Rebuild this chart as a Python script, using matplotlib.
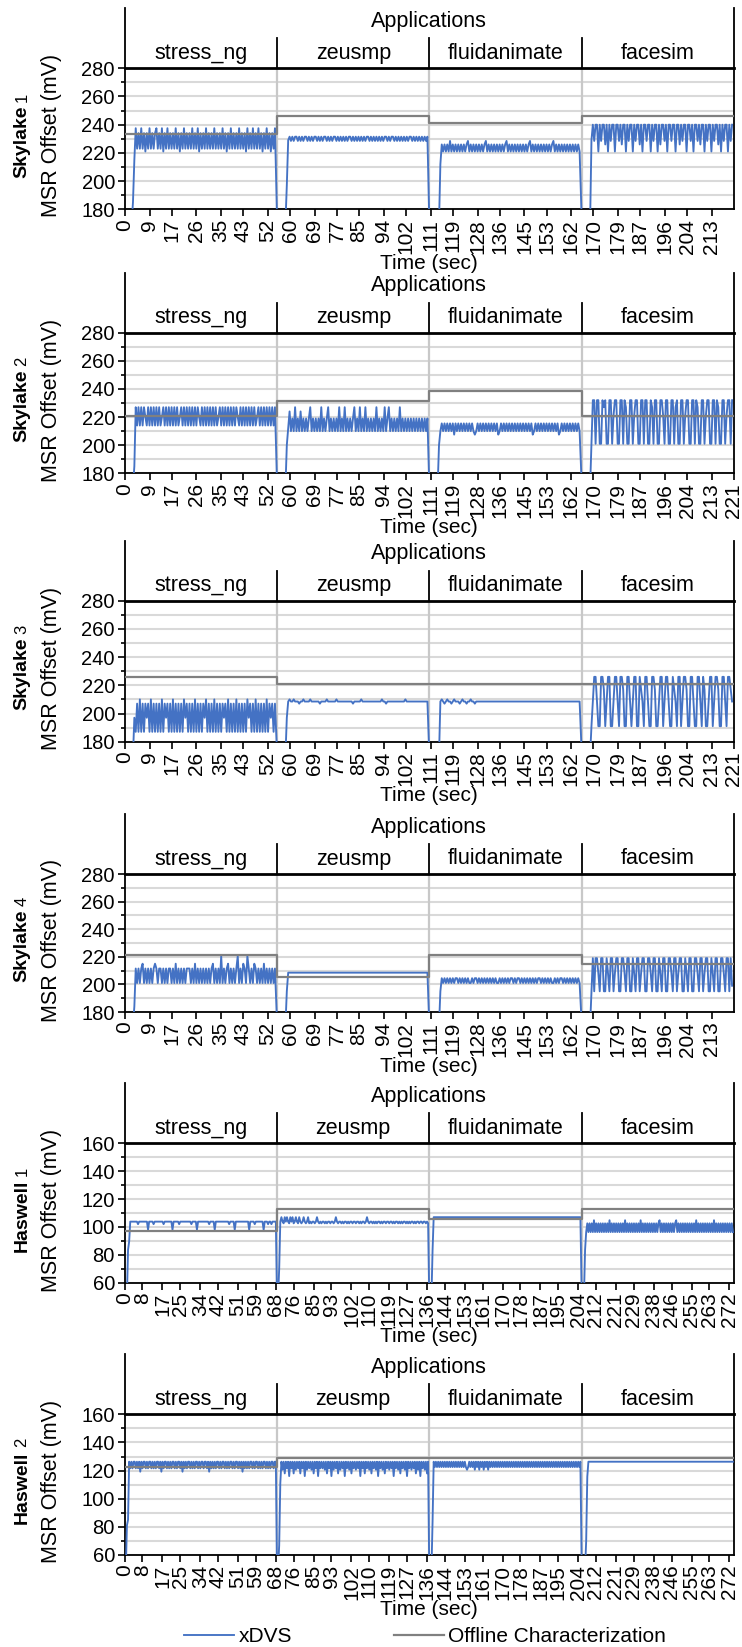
import numpy as np
import matplotlib
matplotlib.use("Agg")
import matplotlib.pyplot as plt
from matplotlib.lines import Line2D

plt.rcParams['font.family'] = ['Liberation Sans', 'DejaVu Sans']

# ------------------------------------------------------------------ data
APPS = ["stress_ng", "zeusmp", "fluidanimate", "facesim"]
SAMPLE_DT = 0.5   # seconds between xDVS samples

SKY_TICKS_A = [0, 9, 17, 26, 35, 43, 52, 60, 69, 77, 85, 94, 102, 111, 119,
               128, 136, 145, 153, 162, 170, 179, 187, 196, 204, 213]
SKY_TICKS_B = [0, 9, 17, 26, 35, 43, 52, 60, 69, 77, 85, 94, 102, 111, 119,
               128, 136, 145, 153, 162, 170, 179, 187, 196, 204, 213, 221]
HAS_TICKS = [0, 8, 17, 25, 34, 42, 51, 59, 68, 76, 85, 93, 102, 110, 119, 127,
             136, 144, 153, 161, 170, 178, 187, 195, 204, 212, 221, 229, 238,
             246, 255, 263, 272]

SKY_BOUNDS = [0, 55.3, 110.5, 165.8, 221.0]     # app boundaries (sec)
HAS_BOUNDS = [0, 68.5, 137.0, 205.6, 274.1]

# ---- Skylake 1
sk1_offline = [233.5, 246.0, 241.0, 246.0]
sk1_codes = {'_': 170, 'a': 185, 'r': 197, 's': 215, 'p': 212, 'g': 229,
             'L': 221, 'l': 223, 'x': 226, 'm': 228.5, 'M': 231.5,
             'h': 234, 'H': 237.5, 'T': 240}
sk1_xdvs = [
    "______asHl hlHlhLhlHl hlhHlhlHLh lHlhlhlHlh LhlHlhlhlH lhlHLhlhlH "
    "lhlhlHlhlh lHlhLhlHlh lhlHlhlhLH lhlHlhlHlh LhlHlhLhlH",
    "_______rgM mMmMMmMmMm MMmMmMmMMm MmMmMMmMmM mMMmMmMmMm MmMMmMmMmM "
    "mMmMmMMmMm MmMmMmMmMM mMmMMmMmMm MmMmMmMMmM mMmMmMmMmM",
    "________px LxLxLmLxLx LxLxLxLxmL xLxLxLxLxL xmLxLxLxLx LxLxLxmLxL "
    "xLxLxLxLxL xLxmLxLxLx LxLxLxLxLx mLxLxLxLxL xLxLxLxLxL",
    "_______gTm TTLTmTTxTL TmTTLTTmTx TTLTmTTLTm TTxTLTTmTT LTmTTLTxTT "
    "mTLTTmTTLT TxTmTTLTTm TLTTmTxTTL TmTTLTmTTx TLTmTTLTmT",
]

# ---- Skylake 2
sk2_offline = [221.0, 231.6, 238.7, 221.0]
sk2_codes = {'_': 170, 'a': 185, 'b': 200, 'i': 212, 'd': 207.5,
             'p': 214, 'P': 227, 'u': 220, 'j': 210, 'k': 219, 'K': 224,
             'm': 215.5, 'W': 232, 'w': 201, 'v': 227, 'z': 221}
sk2_xdvs = [
    "_______aPp PpPpPupPpP pPpPpPpuPp PpPpPpPpPp uPpPpPpPpP pPpPupPpPp "
    "PpPpPpPpuP pPpPpPpPpP pPupPpPpPp PpPpPpuPpP pPpPpPpPpP",
    "_______biK jkjPjkjKjk jkjkPjkjkj kjPjkjkPjk jkjkjPjkjP jkjkjkPjkj "
    "PjkjPjkjkj kjPjkjkjPj kPjkjkjkjP jkjkjkjkjk jkjkjkjkjk",
    "_______bjm jmjmjmjmdm jmjmjmjmjm jmjdjmjmjm jmjmjmjmjm djmjmjmjmj "
    "mjmjmjmjmj mjmjmdjmjm jmjmjmjmjm jmjmdjmjmj mjmjmjmjmj",
    "_______bWW wWWwwWvWww WWwzWWwwWW wWvwwWWwzW WwwWWwWWww WvwWWwwWWz "
    "wWWwwWWwvW wwWWwzWWww WWwWvwwWWw zWWwwWWwWv wwWWwzWWwW",
]

# ---- Skylake 3
sk3_offline = [226.1, 220.7, 220.7, 220.7]
sk3_codes = {'_': 170, 'a': 197, 'L': 187, 'M': 197, 'H': 207, 'T': 210,
             'z': 208.5, 'y': 207, 'E': 226, 'K': 191, 'J': 217}
sk3_xdvs = [
    "_______aLH LTLHLHMHLT LHLHLHLTLH MHLHLTLHLH LHLTMHLHLH LTLHLHLHMT "
    "LHLHLTLHLH LHMHLTLHLH LTLHLHLHLT MHLHLTLHLH LHLTLHMHLH",
    "_______azT zzTzzzyzzT zzzzTzzzzz zyzzzzTzzz zzzTzzzzzz zzzzzyzzzz "
    "zTzzzzzzzz zzzzzzTzzy zzzzzzzzzz zzzTzzzzzz zzzzzzzzzz",
    "________zT zyzTzzyzTz zzyzTzzyzz Tzzyzzzzzz zzzzzzzzzz zzzzzzzzzz "
    "zzzzzzzzzz zzzzzzzzzz zzzzzzzzzz zzzzzzzzzz zzzzzzzzzz",
    "_______KzE EzKKEEJKzE EKKzEEzKEE JKKEEzKzEE KKEJzKEEzK KEEJKKzEEK "
    "zEEzKKEJzK EEKzEEJKKE EzKKEEzKEJ KKzEEKzEEJ KKEEzKEEJz",
]

# ---- Skylake 4
sk4_offline = [221.3, 205.6, 221.3, 214.5]
sk4_codes = {'_': 170, 'a': 184, 'b': 195, 'B': 201, 'T': 211.5, 'S': 215,
             'X': 220.5, 'F': 208.5, 'g': 201, 'h': 204.5, 'U': 219,
             'V': 208, 'W': 195, 'Y': 199}
sk4_xdvs = [
    "_______aTB TBTSBTBTBT BTSTBTTBTB TBTTBTBSBT BTBTBTTTBT BSBTBTBTBT "
    "BTBTSBTBTB XBTBTSBTBT BTXBTBSTBX TBTBSTBTBT BSBTBTBTBT",
    "_______bFF FFFFFFFFFF FFFFFFFFFF FFFFFFFFFF FFFFFFFFFF FFFFFFFFFF "
    "FFFFFFFFFF FFFFFFFFFF FFFFFFFFFF FFFFFFFFFF FFFFFFFFFF",
    "________bh ghghghghgh hghghghghg ghghhghghg hghghghghg ghghghghgh "
    "hghghhghgh ghghghghgh hghghghghg ghghghhghg hghghghghg",
    "_______bUW UUVWUUWWUV WUUWVUUWWU UVWUUWWUVW UUWVUUWWUU VWUUWWUVWU "
    "UWWUUVWUUW VUUWWUVWUU WWUUVWUUWV UUWWUVWUUW WUUVWUUWUY",
]

# ---- Haswell 1
hw1_offline = [97.1, 112.7, 105.5, 112.7]
hw1_codes = {'_': 50, 'a': 70, 'b': 83.5, 'c': 89.5, 'H': 103.8, 'd': 102,
             'D': 98, 'S': 107, 'F': 107, 'P': 104.8, 'Q': 96.3, 'e': 102.6}
hw1_xdvs = [
    "___bcHHHHH HHdHHHHHHH HDHHHHdHHH HHHHHdHHHH HHHDHHHHHd HHHHHHHHHH "
    "dHHHHDHHHH HHHHHHdHHH HDHHHHHHHH HHHHdHHHHD HHHHHHHHHH HHDHHHHdHH "
    "HHHHHDHHHd HHdHHHH",
    "__aHSHeSHS HeSHSeHSHe SHeHSHeHSe HeHHeHSHeH eHHeHeHHeH HeHSHeHHeH "
    "eHHeHeHHeH HeHHeHeHHe HSHeHHeHeH eHHeHeHHeH HeHHeHeHHe HeHeHHeHeH "
    "eHHeHeHHeH HeHHeHe",
    "___bFFFFFF FFFFFFFFFF FFFFFFFFFF FFFFFFFFFF FFFFFFFFFF FFFFFFFFFF "
    "FFFFFFFFFF FFFFFFFFFF FFFFFFFFFF FFFFFFFFFF FFFFFFFFFF FFFFFFFFFF "
    "FFFFFFFFFF FFFFFFF",
    "___bQeQeQe QPQeQeQeQe QeQeQPQeQe QeQeQeQeQP QeQeQeQeQe QeQPQeQeQe "
    "QeQeQeQeQe PQeQeQeQeQ eQeQePQeQe QeQeQeQeQe QeQPQeQeQe QeQeQeQeQP "
    "QeQeQeQeQe QeQeQeQ",
]

# ---- Haswell 2
hw2_offline = [122.3, 128.7, 128.7, 128.7]
hw2_codes = {'_': 50, 'a': 81, 'b': 85, 'c': 67, 'e': 111, 'g': 84, 'h': 70,
             'i': 115.6, 'T': 126.3, 'u': 121.6, 'v': 119.2, 'w': 118,
             'x': 116.1, 'y': 120.6, 'z': 122.5}
hw2_xdvs = [
    "__abTuTuTT uTuTvTuTTu TuTTuTuTuT TuTvTuTTuT uTuTTuTuTT uTvTuTuTTu "
    "TuTuTTuTuT TuTTuTvTuT uTuTTuTuTT uTuTuTTuTu TTuTuTvTuT uTuTTuTuTT "
    "uTuTuTTuTu TuTTuTT",
    "__ceTyTwTu TxTuTwTyTu TwTuTxTyTu TyTwTuTxTu TuTyTwTuTx TyTuTwTyTu "
    "TxTuTyTwTu TyTuTxTuTw TuTyTwTuTy TxTuTyTwTu TyTuTxTuTy TwTuTyTxTu "
    "TyTuTwTyTx TuTyTwT",
    "___gTzTzTz TzTzTzTzTz TzTzTzTzTz TzTzyzTzTz TyTzTyTzTy TzTyTzTzTz "
    "TzTzTzTzTz TzTzTzTzTz TzTzTzTzTz TzTzTzTzTz TzTzTzTzTz TzTzTzTzTz "
    "TzTzTzTzTz TzTzTzT",
    "____hiTTTT TTTTTTTTTT TTTTTTTTTT TTTTTTTTTT TTTTTTTTTT TTTTTTTTTT "
    "TTTTTTTTTT TTTTTTTTTT TTTTTTTTTT TTTTTTTTTT TTTTTTTTTT TTTTTTTTTT "
    "TTTTTTTTTT TTTTTTT",
]

PANELS = [
    ("Skylake", "1", (180, 280), SKY_BOUNDS, SKY_TICKS_A, sk1_offline, sk1_codes, sk1_xdvs),
    ("Skylake", "2", (180, 280), SKY_BOUNDS, SKY_TICKS_B, sk2_offline, sk2_codes, sk2_xdvs),
    ("Skylake", "3", (180, 280), SKY_BOUNDS, SKY_TICKS_B, sk3_offline, sk3_codes, sk3_xdvs),
    ("Skylake", "4", (180, 280), SKY_BOUNDS, SKY_TICKS_A, sk4_offline, sk4_codes, sk4_xdvs),
    ("Haswell", "1", (60, 160), HAS_BOUNDS, HAS_TICKS, hw1_offline, hw1_codes, hw1_xdvs),
    ("Haswell", "2", (60, 160), HAS_BOUNDS, HAS_TICKS, hw2_offline, hw2_codes, hw2_xdvs),
]

# ------------------------------------------------------------------ style/layout
W, H, DPI = 742, 1647, 100
BLUE = "#4472C4"
GRAY = "#808080"
GRID = "#D9D9D9"
SEP = "#C8C8C8"
AX_LEFT, AX_RIGHT = 124.7, 734.0
PANEL_PX = [(68.3, 209.3), (332.7, 473.3), (600.7, 741.7),
            (874.0, 1012.0), (1143.3, 1282.7), (1414.3, 1555.0)]
HEADER_PX = 60
SEP_PX = 30


def decode(segs, codes, bounds):
    ts, vs = [], []
    for k, s in enumerate(segs):
        s = s.replace(" ", "")
        ts.append(bounds[k] + SAMPLE_DT * np.arange(len(s)))
        vs.append(np.array([codes[c] for c in s], dtype=float))
    return np.concatenate(ts), np.concatenate(vs)


fig = plt.figure(figsize=(W / DPI, H / DPI), dpi=DPI)
fig.patch.set_facecolor("white")

ylabel_words = []
for (machine, num, ylim, bounds, ticks, offline, codes, segs), (ptop, pbot) in zip(PANELS, PANEL_PX):
    axh = pbot - ptop
    rect = [AX_LEFT / W, 1 - pbot / H, (AX_RIGHT - AX_LEFT) / W, axh / H]
    ax = fig.add_axes(rect)
    ax.set_xlim(bounds[0], bounds[-1])
    ax.set_ylim(*ylim)

    # grid
    ax.set_yticks(np.arange(ylim[0], ylim[1] + 1, 20))
    ax.set_yticks(np.arange(ylim[0], ylim[1] + 1, 10), minor=True)
    ax.grid(which="both", axis="y", color=GRID, lw=1.5, zorder=0)
    ax.set_axisbelow(True)

    # separators inside plot
    for b in bounds[1:-1]:
        ax.axvline(b, color=SEP, lw=1.6, zorder=1.5)

    t, v = decode(segs, codes, bounds)
    ax.plot(t, v, color=BLUE, lw=1.35, zorder=3)
    ox = np.repeat(bounds, 2)[1:-1]
    oy = np.repeat(offline, 2)
    ax.plot(ox, oy, color=GRAY, lw=1.6, zorder=4)

    # spines
    for s in ["left", "right", "bottom"]:
        ax.spines[s].set_linewidth(1.3)
        ax.spines[s].set_color("black")
    ax.spines["top"].set_linewidth(2.0)
    ax.spines["top"].set_color("black")

    ax.set_xticks(ticks)
    ax.set_xticklabels([str(x) for x in ticks])
    ax.tick_params(axis="x", which="major", direction="out", length=5, width=1.2,
                   labelsize=15, labelrotation=90, pad=2)
    ax.tick_params(axis="y", which="major", direction="out", length=5, width=1.2,
                   labelsize=14.5, pad=2)
    ax.tick_params(axis="y", which="minor", direction="out", length=3, width=1.2)
    ax.set_xlabel("Time (sec)", fontsize=15, labelpad=0)

    # header (multi-level category axis)
    hh = HEADER_PX / axh
    kw = dict(transform=ax.transAxes, clip_on=False, color="black", lw=1.3)
    ax.plot([0, 0], [1, 1 + hh], **kw)
    ax.plot([1, 1], [1, 1 + hh], **kw)
    xt = ax.get_xaxis_transform()
    for b in bounds[1:-1]:
        ax.plot([b, b], [1, 1 + SEP_PX / axh], transform=xt, clip_on=False,
                color="black", lw=1.3)
    ax.text(0.5, 1 + 47 / axh, "Applications", transform=ax.transAxes,
            ha="center", va="center", fontsize=15.5)
    for k, name in enumerate(APPS):
        ax.text((bounds[k] + bounds[k + 1]) / 2, 1 + 15 / axh, name, transform=xt,
                ha="center", va="center", fontsize=15.5)

    # y labels
    yc = (ptop + pbot) / 2
    fig.text(52 / W, 1 - (yc - 3) / H, "MSR Offset (mV)", rotation=90,
             ha="center", va="center", fontsize=15.5)
    wt = fig.text(22 / W, 1 - (yc + 3) / H, machine, rotation=90, ha="center",
                  va="center", fontsize=14, fontweight="bold")
    ylabel_words.append((wt, num))

# place machine numbers after the bold word
fig.canvas.draw()
renderer = fig.canvas.get_renderer()
for wt, num in ylabel_words:
    bb = wt.get_window_extent(renderer)
    fig.text(bb.x0 / W + 1.0 / W, (bb.y1 + 4) / H, num, rotation=90, ha="left",
             va="bottom", fontsize=12)

handles = [Line2D([], [], color=BLUE, lw=1.35), Line2D([], [], color=GRAY, lw=1.6)]
fig.legend(handles, ["xDVS", "Offline Characterization"], loc="center",
           bbox_to_anchor=(425 / W, 1 - 1637 / H), ncol=2, frameon=False,
           fontsize=15, handlelength=2.4, handletextpad=0.2, columnspacing=4.9,
           borderpad=0, borderaxespad=0)

fig.savefig("out.png", dpi=DPI, facecolor="white")
